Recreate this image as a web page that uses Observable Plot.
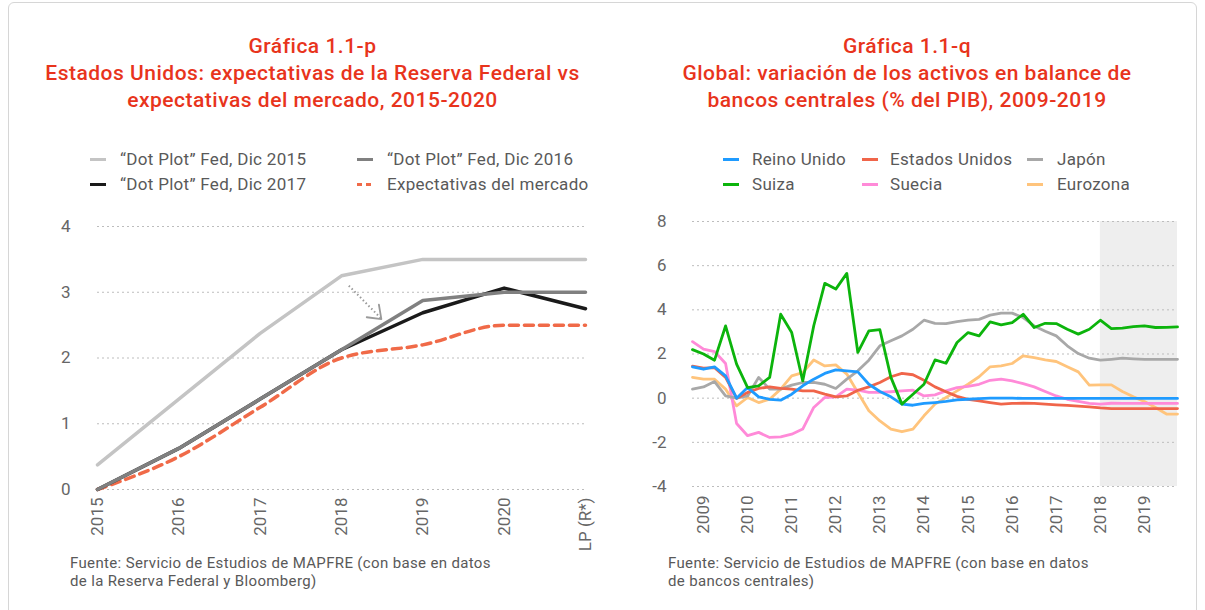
<!DOCTYPE html>
<html><head><meta charset="utf-8">
<script src="https://cdn.jsdelivr.net/npm/d3@7"></script>
<script src="https://cdn.jsdelivr.net/npm/@observablehq/plot@0.6"></script>
<style>
body{margin:0;background:#fff;font-family:Roboto,"Noto Sans",sans-serif;}
#page{position:relative;width:1205px;height:610px;overflow:hidden;background:#fff;}
.frame{position:absolute;left:8px;top:2px;width:1187px;height:660px;border:1px solid #d6d6d6;border-radius:6px;}
.title{position:absolute;top:33px;color:#e8341c;font-size:21px;letter-spacing:0.5px;font-weight:500;text-align:center;line-height:27px;}
.leg{position:absolute;font-size:17px;letter-spacing:0.3px;color:#595959;white-space:nowrap;line-height:20px;height:20px;}
.leg svg{position:absolute;top:0;}
.src{position:absolute;font-size:15px;letter-spacing:0.35px;color:#595959;line-height:18px;white-space:nowrap;}
.chart{position:absolute;}
</style></head>
<body><div id="page">
<div class="frame"></div>
<div class="title" style="left:10px;width:605px;">Gráfica 1.1-p<br>Estados Unidos: expectativas de la Reserva Federal vs<br>expectativas del mercado, 2015-2020</div>
<div class="title" style="left:612px;width:590px;">Gráfica 1.1-q<br>Global: variación de los activos en balance de<br>bancos centrales (% del PIB), 2009-2019</div>
<div id="legL"></div><div id="legR"></div>
<div class="chart" id="left" style="left:40px;top:210px;"></div>
<div class="chart" id="right" style="left:620px;top:210px;"></div>
<div class="src" style="left:70px;top:554px;">Fuente: Servicio de Estudios de MAPFRE (con base en datos<br>de la Reserva Federal y Bloomberg)</div>
<div class="src" style="left:668px;top:554px;">Fuente: Servicio de Estudios de MAPFRE (con base en datos<br>de bancos centrales)</div>
</div>
<script>
// ---------- Left chart data ----------
const leftCategories = ["2015","2016","2017","2018","2019","2020","LP (R*)"];
const dotPlot2015 = [0.375, 1.375, 2.375, 3.25, 3.5, 3.5, 3.5];
const dotPlot2016 = [0, 0.625, 1.375, 2.125, 2.875, 3.0, 3.0];
const dotPlot2017 = [0, 0.625, 1.375, 2.125, 2.688, 3.063, 2.75];
const marketExpect = [0, 0.5, 1.25, 2.0, 2.2, 2.5, 2.5];
const leftYTicks = [0, 1, 2, 3, 4];
// annotation arrow (category index, value)
const arrowShaft = [{x1: 3.09, y1: 3.10, x2: 3.48, y2: 2.61}];
const arrowHead = [{x: 3.31, y: 2.62}, {x: 3.49, y: 2.59}, {x: 3.46, y: 2.81}];

// ---------- Right chart data (quarterly, 2008 T4 – 2019 T4) ----------
const reinoUnido = [1.42,1.31,1.42,1.01,0.0,0.48,0.06,-0.05,-0.09,0.18,0.56,0.86,1.12,1.28,1.24,1.19,0.63,0.3,0.06,-0.27,-0.32,-0.24,-0.2,-0.15,-0.08,-0.05,-0.02,0.0,0.0,0.0,-0.01,-0.01,-0.01,-0.01,-0.01,-0.01,-0.01,-0.01,-0.01,-0.01,-0.01,-0.01,-0.01,-0.01,-0.01];
const estadosUnidos = [1.45,1.36,1.38,0.94,0.0,0.26,0.44,0.51,0.44,0.41,0.33,0.33,0.18,0.06,0.1,0.36,0.51,0.71,0.97,1.12,1.06,0.81,0.51,0.29,0.08,-0.05,-0.12,-0.2,-0.27,-0.24,-0.23,-0.24,-0.27,-0.3,-0.33,-0.36,-0.39,-0.44,-0.47,-0.47,-0.47,-0.47,-0.47,-0.47,-0.47];
const japon = [0.41,0.51,0.75,0.1,0.0,0.1,0.94,0.41,0.41,0.59,0.71,0.71,0.63,0.44,0.86,1.24,1.72,2.37,2.6,2.82,3.12,3.53,3.39,3.38,3.47,3.53,3.57,3.76,3.85,3.85,3.65,3.27,3.03,2.82,2.37,2.02,1.81,1.72,1.76,1.81,1.78,1.76,1.76,1.76,1.76];
const suiza = [2.2,2.0,1.72,3.27,1.54,0.48,0.56,0.94,3.8,2.97,0.78,3.28,5.2,4.94,5.65,2.07,3.05,3.1,0.94,-0.27,0.18,0.63,1.73,1.58,2.52,2.97,2.82,3.45,3.32,3.42,3.8,3.2,3.39,3.38,3.12,2.9,3.12,3.53,3.15,3.17,3.24,3.27,3.2,3.21,3.23];
const suecia = [2.56,2.22,2.11,1.57,-1.15,-1.7,-1.55,-1.78,-1.75,-1.63,-1.4,-0.42,0.03,0.06,0.41,0.36,0.26,0.26,0.29,0.33,0.36,0.1,0.15,0.33,0.48,0.53,0.63,0.81,0.86,0.78,0.66,0.51,0.3,0.1,-0.05,-0.15,-0.24,-0.27,-0.23,-0.24,-0.24,-0.24,-0.24,-0.24,-0.24];
const eurozona = [0.94,0.86,0.86,0.41,-0.35,0.03,-0.2,-0.05,0.41,1.01,1.16,1.73,1.46,1.51,1.09,0.26,-0.57,-1.03,-1.4,-1.52,-1.4,-0.8,-0.27,0.03,0.33,0.63,0.97,1.42,1.46,1.57,1.92,1.84,1.73,1.66,1.42,1.19,0.59,0.6,0.6,0.3,0.06,-0.15,-0.42,-0.72,-0.72];
const rightYTicks = [-4, -2, 0, 2, 4, 6, 8];
const yearTicks = [2009,2010,2011,2012,2013,2014,2015,2016,2017,2018,2019];
const forecastPeriod = [{x1: 2018, x2: 2019.75, y1: -4, y2: 8}];

const quarters = d3.range(reinoUnido.length).map(k => 2008.75 + 0.25 * k);

// ---------- Legends ----------
const leftLegend = [
  {label: "“Dot Plot” Fed, Dic 2015", color: "#c4c4c4", dash: null, sx: 90, tx: 120, y: 149},
  {label: "“Dot Plot” Fed, Dic 2016", color: "#808080", dash: null, sx: 357, tx: 387, y: 149},
  {label: "“Dot Plot” Fed, Dic 2017", color: "#1a1a1a", dash: null, sx: 90, tx: 120, y: 174},
  {label: "Expectativas del mercado", color: "#f06a48", dash: "5,4", sx: 357, tx: 387, y: 174}
];
const rightLegend = [
  {label: "Reino Unido", color: "#1f9bff", sx: 723, tx: 752, y: 149},
  {label: "Estados Unidos", color: "#f0654a", sx: 862, tx: 890, y: 149},
  {label: "Japón", color: "#a8a8a8", sx: 1027, tx: 1057, y: 149},
  {label: "Suiza", color: "#0cb40c", sx: 723, tx: 752, y: 174},
  {label: "Suecia", color: "#ff8ad8", sx: 862, tx: 890, y: 174},
  {label: "Eurozona", color: "#ffc47c", sx: 1027, tx: 1057, y: 174}
];
function drawLegend(id, items) {
  const host = document.getElementById(id);
  for (const it of items) {
    const d = document.createElement("div");
    d.className = "leg";
    d.style.left = it.sx + "px"; d.style.top = it.y + "px";
    d.innerHTML = `<svg width="17" height="20" style="left:0"><line x1="0" x2="16" y1="10.5" y2="10.5" stroke="${it.color}" stroke-width="3" ${it.dash ? `stroke-dasharray="${it.dash}"` : ""}/></svg><span style="position:absolute;left:${it.tx - it.sx}px;top:0">${it.label}</span>`;
    host.appendChild(d);
  }
}
drawLegend("legL", leftLegend);
drawLegend("legR", rightLegend);

// ---------- Left chart ----------
const idx = leftCategories.map((c, i) => i);
const mk = arr => arr.map((v, i) => ({i, v}));
const gridStyle = {stroke: "#bdbdbd", strokeDasharray: "2,3", strokeWidth: 1};
const axisStyle = {fontFamily: "Roboto, 'Noto Sans', sans-serif", fontSize: "17px", color: "#666", background: "transparent"};
const leftPlot = Plot.plot({
  width: 560, height: 360,
  marginLeft: 57, marginRight: 15, marginTop: 16, marginBottom: 81,
  style: axisStyle,
  x: {domain: [0, leftCategories.length - 1]},
  y: {domain: [0, 4]},
  marks: [
    Plot.ruleY(leftYTicks, gridStyle),
    Plot.axisY({ticks: leftYTicks, tickSize: 0, tickPadding: 27, tickFormat: d => String(d), label: null}),
    Plot.axisX({ticks: idx, tickSize: 0, tickPadding: 8, tickRotate: -90, tickFormat: i => leftCategories[i], label: null}),
    Plot.line(mk(marketExpect), {x: "i", y: "v", stroke: "#f06a48", strokeWidth: 3.5, strokeDasharray: "9,6", curve: "monotone-x"}),
    Plot.line(mk(dotPlot2017), {x: "i", y: "v", stroke: "#1a1a1a", strokeWidth: 3.5}),
    Plot.line(mk(dotPlot2016), {x: "i", y: "v", stroke: "#808080", strokeWidth: 3.5}),
    Plot.line(mk(dotPlot2015), {x: "i", y: "v", stroke: "#c4c4c4", strokeWidth: 3.5}),
    Plot.link(arrowShaft, {x1: "x1", y1: "y1", x2: "x2", y2: "y2", stroke: "#999", strokeWidth: 2, strokeDasharray: "1.5,2.5"}),
    Plot.line(arrowHead, {x: "x", y: "y", stroke: "#999", strokeWidth: 1.8})
  ]
});
document.getElementById("left").appendChild(leftPlot);

// ---------- Right chart ----------
const series = [
  {name: "Eurozona", values: eurozona, color: "#ffc47c"},
  {name: "Suecia", values: suecia, color: "#ff8ad8"},
  {name: "Japón", values: japon, color: "#a8a8a8"},
  {name: "Estados Unidos", values: estadosUnidos, color: "#f0654a"},
  {name: "Reino Unido", values: reinoUnido, color: "#1f9bff"},
  {name: "Suiza", values: suiza, color: "#0cb40c"}
];
const rightPlot = Plot.plot({
  width: 575, height: 330,
  marginLeft: 72, marginRight: 18, marginTop: 11, marginBottom: 54,
  style: axisStyle,
  x: {domain: [2008.75, 2019.75]},
  y: {domain: [-4, 8]},
  marks: [
    Plot.rect(forecastPeriod, {x1: "x1", x2: "x2", y1: "y1", y2: "y2", fill: "#eeeeee"}),
    Plot.ruleY(rightYTicks, gridStyle),
    Plot.axisY({ticks: rightYTicks, tickSize: 0, tickPadding: 26, tickFormat: d => String(d), label: null}),
    Plot.axisX({ticks: yearTicks, tickSize: 0, tickPadding: 9, tickRotate: -90, tickFormat: d => String(d), label: null}),
    ...series.map(s => Plot.line(s.values.map((v, k) => ({t: quarters[k], v})), {x: "t", y: "v", stroke: s.color, strokeWidth: 2.8}))
  ]
});
document.getElementById("right").appendChild(rightPlot);
</script>
</body></html>
